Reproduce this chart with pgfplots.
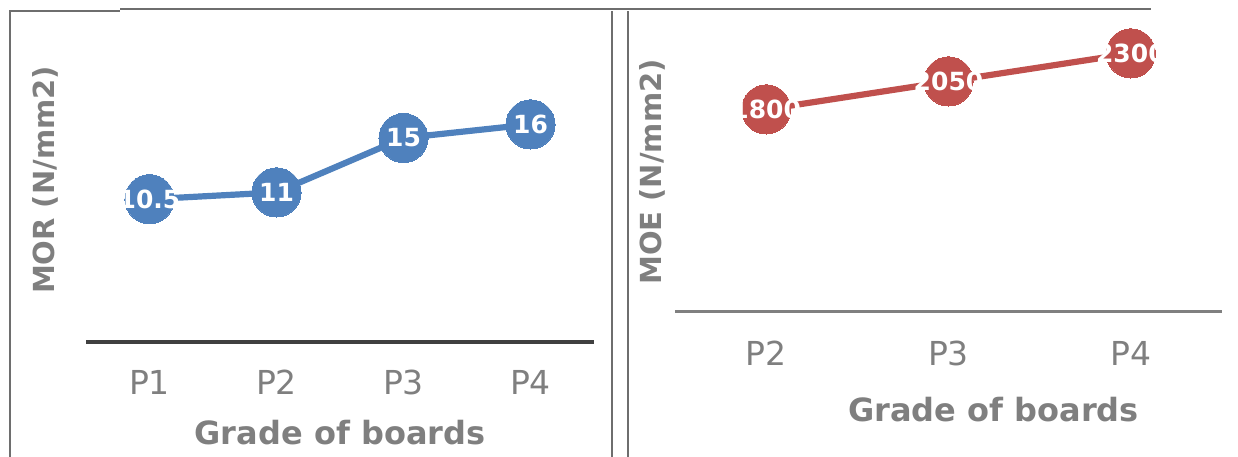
\documentclass[border=0pt]{standalone}
\usepackage{pgfplots}
\pgfplotsset{compat=1.18}
\usepackage{fontspec}
\setmainfont{DejaVu Sans}
\definecolor{cblue}{HTML}{4F81BD}
\definecolor{cred}{HTML}{C0504D}
\definecolor{tgray}{HTML}{7F7F7F}
\definecolor{fgray}{HTML}{6E6E6E}
\begin{document}
\begin{tikzpicture}
\useasboundingbox (0,0) rectangle (619pt,228pt);
% frames
\draw[fgray, line width=0.8pt] (60pt,223.5pt) -- (575.5pt,223.5pt);
\draw[fgray, line width=0.8pt] (5pt,-5pt) -- (5pt,222.5pt) -- (60pt,222.5pt);
\draw[fgray, line width=0.8pt] (306pt,-5pt) -- (306pt,222.5pt);
\draw[fgray, line width=0.8pt] (314pt,-5pt) -- (314pt,222.5pt);
\pgfplotsset{
  myaxis/.style={
    scale only axis,
    axis x line*=bottom,
    axis y line=none,
    ymin=0,
    xtick=data,
    major tick length=0pt,
    clip=false,
    tick label style={font=\fontsize{16.5}{18}\selectfont, text=tgray},
    xticklabel style={yshift=-10.5pt},
    nodes near coords,
    point meta=explicit symbolic,
    every node near coord/.append style={anchor=center, text=white, font=\bfseries\fontsize{12.5}{14}\selectfont},
  }
}
\begin{axis}[myaxis,
  at={(43pt,57pt)}, anchor=south west,
  width=254pt, height=136pt,
  xmin=0.5, xmax=4.5, ymax=20,
  xticklabels={P1,P2,P3,P4},
  x axis line style={draw=black!75, line width=1.7pt},
]
\addplot[cblue, line width=3.1pt, mark=*, mark size=12.3pt, mark options={fill=cblue, draw=cblue, line width=0pt}]
  coordinates {(1,10.5) [10.5] (2,11) [11] (3,15) [15] (4,16) [16]};
\end{axis}
\begin{axis}[myaxis,
  at={(337.5pt,72.5pt)}, anchor=south west,
  width=273.5pt, height=140pt,
  xmin=0.5, xmax=3.5, ymax=2500,
  xticklabels={P2,P3,P4},
  xticklabel style={yshift=-1pt},
  x axis line style={draw=black!50, line width=1.5pt},
]
\addplot[cred, line width=3.1pt, mark=*, mark size=12.3pt, mark options={fill=cred, draw=cred, line width=0pt}]
  coordinates {(1,1800) [1800] (2,2050) [2050] (3,2300) [2300]};
\end{axis}
% axis titles
\node[text=tgray, font=\bfseries\fontsize{16}{18}\selectfont] at (170pt,11.5pt) {Grade of boards};
\node[text=tgray, font=\bfseries\fontsize{16}{18}\selectfont] at (496.75pt,23pt) {Grade of boards};
\node[text=tgray, font=\bfseries\fontsize{14.5}{16}\selectfont, rotate=90] at (22.5pt,138pt) {MOR (N/mm2)};
\node[text=tgray, font=\bfseries\fontsize{14.5}{16}\selectfont, rotate=90] at (326pt,142pt) {MOE (N/mm2)};
\end{tikzpicture}
\end{document}
